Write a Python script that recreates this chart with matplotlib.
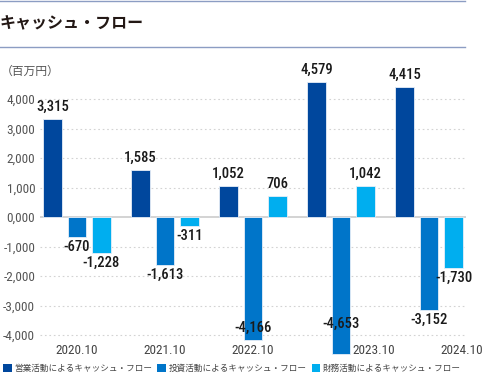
import matplotlib

matplotlib.use("Agg")
import matplotlib.pyplot as plt
from matplotlib import font_manager
from matplotlib.lines import Line2D
from matplotlib.patches import Patch
import numpy as np

plt.rcParams["font.family"] = ["Noto Sans CJK JP", "DejaVu Sans"]

years = ["2020.10", "2021.10", "2022.10", "2023.10", "2024.10"]
operating = [3315, 1585, 1052, 4579, 4415]
investing = [-670, -1613, -4166, -4653, -3152]
financing = [-1228, -311, 706, 1042, -1730]
series_names = ["営業活動によるキャッシュ・フロー", "投資活動によるキャッシュ・フロー",
                "財務活動によるキャッシュ・フロー"]
yticks = [4000, 3000, 2000, 1000, 0, -1000, -2000, -3000, -4000]
ytick_labels = ["4,000", "3,000", "2,000", "1,000", "0,000",
                "-1,000", "-2,000", "-3,000", "-4,000"]

COLORS = ["#00479D", "#0075C9", "#00AEEF"]
LINE = "#8C9DC3"

# condensed face for the numbers, whichever one is installed
_have = {f.name for f in font_manager.fontManager.ttflist}
NUM_FONT = [n for n in ("Roboto Condensed", "Barlow Condensed", "Fira Sans Condensed")
            if n in _have][:1] + ["DejaVu Sans"]

fig = plt.figure(figsize=(4.84, 3.79), dpi=100)
fig.patch.set_facecolor("white")

# header rules and title
fig.add_artist(Line2D([0, 0.96], [0.998, 0.998], color=LINE, lw=1.0))
fig.add_artist(Line2D([0, 0.96], [1 - 47 / 379, 1 - 47 / 379], color=LINE, lw=1.0))
fig.text(0.0, 1 - 23 / 379, "キャッシュ・フロー", fontsize=11.5, fontweight="bold",
         color="#231815", va="center", ha="left")
fig.text(0.002, 1 - 71 / 379, "（百万円）", fontsize=8.5, color="#555555",
         va="center", ha="left")

ax = fig.add_axes([40 / 484, 0.0615, (466 - 40) / 484, 0.7395])
ax.set_xlim(-0.42, 4.42)
ax.set_ylim(-4700, 4800)
for s in ax.spines.values():
    s.set_visible(False)

for t in yticks:
    if t == 0:
        ax.axhline(0, color="#D3D3D3", lw=1.4, zorder=1)
    else:
        ax.axhline(t, color="#D3D3D3", lw=0.8, ls=(0, (1.5, 2.5)), zorder=1)

x = np.arange(len(years))
off = 0.278
w = 0.215
for k, vals in enumerate([operating, investing, financing]):
    xs = x + (k - 1) * off
    ax.bar(xs, vals, width=w, color=COLORS[k], edgecolor="#E6EEF8", lw=0.6, zorder=2)
    for xi, v in zip(xs, vals):
        label = f"{v:,}"
        if v >= 0:
            y, va = v + 170, "bottom"
        elif v < -4000:
            # no room under the bar: label sits inside its lower end
            y, va = (-3400 if v < -4500 else -3530), "top"
        else:
            y, va = v - 100, "top"
        ax.text(xi, y, label, ha="center", va=va, fontsize=10.5, fontweight="medium",
                family=NUM_FONT, color="#1A1A1A", zorder=3)

ax.set_yticks(yticks)
ax.set_yticklabels(ytick_labels, family=NUM_FONT, fontsize=9.5, color="#555555")
ax.tick_params(axis="y", length=0, pad=3.5)
ax.set_xticks([])

# year labels under each group, nudged right where the investing bar runs long
label_x = x + np.array([0.0, 0.0, 0.0, 0.37, 0.37])
for xi, yr in zip(label_x, years):
    ax.text(xi, -4510, yr, ha="center", va="center", fontsize=9.5,
            family=NUM_FONT, color="#444444", zorder=3)

handles = [Patch(facecolor=c, edgecolor="none") for c in COLORS]
fig.legend(handles, series_names, loc="lower left", bbox_to_anchor=(-0.01, -0.005),
           ncol=3, frameon=False, fontsize=6.2, handlelength=1.0, handleheight=1.0,
           handletextpad=0.3, columnspacing=0.6, labelcolor="#444444")

fig.savefig("out.png", dpi=100, facecolor="white")
